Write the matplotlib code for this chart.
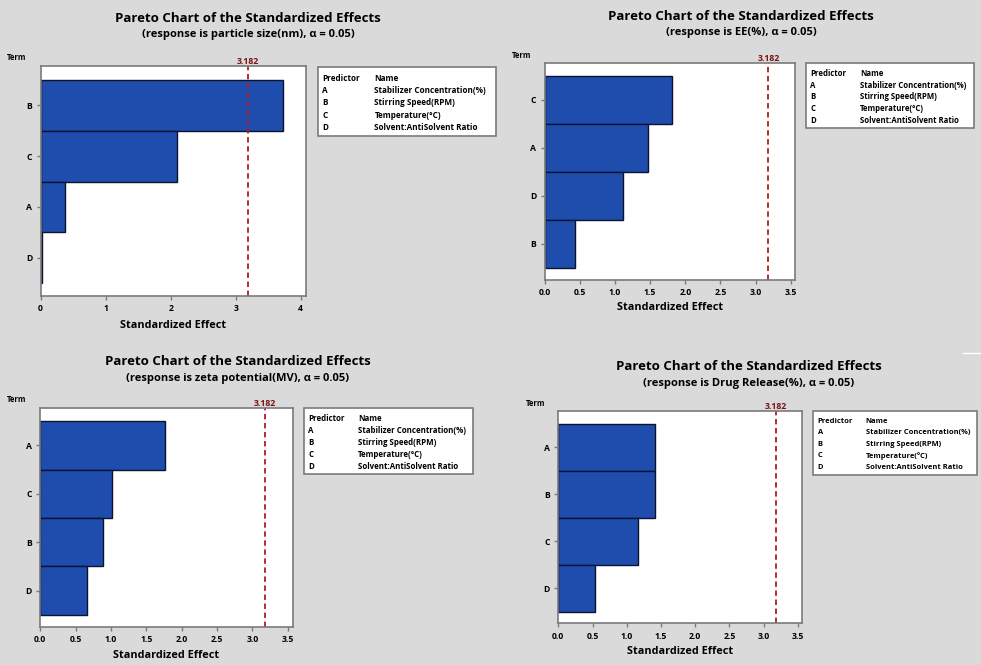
import matplotlib
matplotlib.use("Agg")
import matplotlib.pyplot as plt
from matplotlib.patches import Rectangle

plt.rcParams['font.family'] = ['Open Sans', 'DejaVu Sans']
plt.rcParams['font.weight'] = 'bold'

W, H = 981, 665
BG = '#dadada'
BAR = '#1f4dad'
SPINE = '#7a7a7a'
RED = '#b01c1c'

# chart data
responses = ['particle size(nm)', 'EE(%)', 'zeta potential(MV)', 'Drug Release(%)']
terms_ps = ['B', 'C', 'A', 'D']
effects_ps = [3.72, 2.10, 0.38, 0.02]
terms_ee = ['C', 'A', 'D', 'B']
effects_ee = [1.815, 1.465, 1.11, 0.43]
terms_zp = ['A', 'C', 'B', 'D']
effects_zp = [1.77, 1.02, 0.89, 0.665]
terms_dr = ['A', 'B', 'C', 'D']
effects_dr = [1.414, 1.412, 1.16, 0.535]
critical = 3.182
predictors = ['A', 'B', 'C', 'D']
names = ['Stabilizer Concentration(%)', 'Stirring Speed(RPM)',
         'Temperature(°C)', 'Solvent:AntiSolvent Ratio']
xticks_ps = [0, 1, 2, 3, 4]
xticks_other = [0.0, 0.5, 1.0, 1.5, 2.0, 2.5, 3.0, 3.5]

# layout in pixels: axes box, x max, title centre, legend box
panels = [
    dict(terms=terms_ps, eff=effects_ps, resp=responses[0], ticks=xticks_ps, fmt='{:g}',
         ax=(40.5, 66, 306, 296), xmax=4.08, tx=248, ty=18, term=(17, 58),
         xl=(173, 326), leg=(318, 67, 496, 136), lfs=5.9, nx=56.5),
    dict(terms=terms_ee, eff=effects_ee, resp=responses[1], ticks=xticks_other, fmt='{:.1f}',
         ax=(544.7, 63, 795, 280), xmax=3.56, tx=741, ty=17, term=(522, 55),
         xl=(670, 308), leg=(806, 63, 974, 128), lfs=5.6, nx=54),
    dict(terms=terms_zp, eff=effects_zp, resp=responses[2], ticks=xticks_other, fmt='{:.1f}',
         ax=(40.3, 408, 292.7, 627), xmax=3.57, tx=238, ty=362, term=(17, 400),
         xl=(166, 655), leg=(304, 408, 473, 474), lfs=5.7, nx=54),
    dict(terms=terms_dr, eff=effects_dr, resp=responses[3], ticks=xticks_other, fmt='{:.1f}',
         ax=(558.3, 411, 802, 623.3), xmax=3.56, tx=749, ty=367, term=(536, 404),
         xl=(680, 651), leg=(813, 411, 977, 475), lfs=5.4, nx=52.5),
]


def fx(x):
    return x / W


def fy(y):
    return 1 - y / H


fig = plt.figure(figsize=(W / 100, H / 100), dpi=100, facecolor=BG)

for p in panels:
    x0, y0, x1, y1 = p['ax']
    ax = fig.add_axes([fx(x0), fy(y1), (x1 - x0) / W, (y1 - y0) / H])
    pos = list(range(len(p['terms'])))
    ax.barh(pos, p['eff'], height=1.0, color=BAR, edgecolor='#0a1430', linewidth=1.0)
    ax.set_ylim(len(pos) - 0.5 + 0.25, -0.5 - 0.27)
    ax.set_xlim(0, p['xmax'])
    ax.axvline(critical, color=RED, linestyle=(0, (3, 2)), linewidth=1.3)
    ax.text(critical, -0.5 - 0.27, '3.182', color='#7a1414', fontsize=6.3,
            fontweight='bold', ha='center', va='bottom',
            transform=ax.transData)
    ax.set_yticks(pos)
    ax.set_yticklabels(p['terms'])
    ax.set_xticks(p['ticks'])
    ax.set_xticklabels([p['fmt'].format(t) for t in p['ticks']])
    ax.tick_params(axis='both', length=3, width=1, color=SPINE, labelsize=6.2,
                   pad=3)
    for lab in ax.get_xticklabels() + ax.get_yticklabels():
        lab.set_fontweight('bold')
    for s in ax.spines.values():
        s.set_color(SPINE)
        s.set_linewidth(1.2)
    ax.set_facecolor('white')

    fig.text(fx(p['tx']), fy(p['ty']), 'Pareto Chart of the Standardized Effects',
             ha='center', va='center', fontsize=9.5, fontweight='bold')
    fig.text(fx(p['tx']), fy(p['ty'] + 16),
             '(response is %s, α = 0.05)' % p['resp'],
             ha='center', va='center', fontsize=8, fontweight='bold')
    fig.text(fx(p['term'][0]), fy(p['term'][1]), 'Term', ha='center', va='center',
             fontsize=5.5, fontweight='bold')
    fig.text(fx(p['xl'][0]), fy(p['xl'][1]), 'Standardized Effect', ha='center',
             va='center', fontsize=7.8, fontweight='bold')

    # legend box
    lx0, ly0, lx1, ly1 = p['leg']
    fig.patches.append(Rectangle((fx(lx0), fy(ly1)), (lx1 - lx0) / W, (ly1 - ly0) / H,
                                 transform=fig.transFigure, facecolor='white',
                                 edgecolor=SPINE, linewidth=1.2))
    lh = ly1 - ly0
    rows = [('Predictor', 'Name')] + list(zip(predictors, names))
    for i, (a, b) in enumerate(rows):
        yy = ly0 + 0.16 * lh + i * 0.18 * lh
        fig.text(fx(lx0 + 4.5), fy(yy), a, ha='left', va='center', fontsize=p['lfs'],
                 fontweight='bold')
        fig.text(fx(lx0 + p['nx']), fy(yy), b, ha='left', va='center',
                 fontsize=p['lfs'], fontweight='bold')

# stray white mark at the right edge
fig.add_artist(plt.Line2D([fx(963), fx(981)], [fy(353), fy(353)], color='white',
                          linewidth=1, transform=fig.transFigure))

fig.savefig('out.png', dpi=100, facecolor=BG)
